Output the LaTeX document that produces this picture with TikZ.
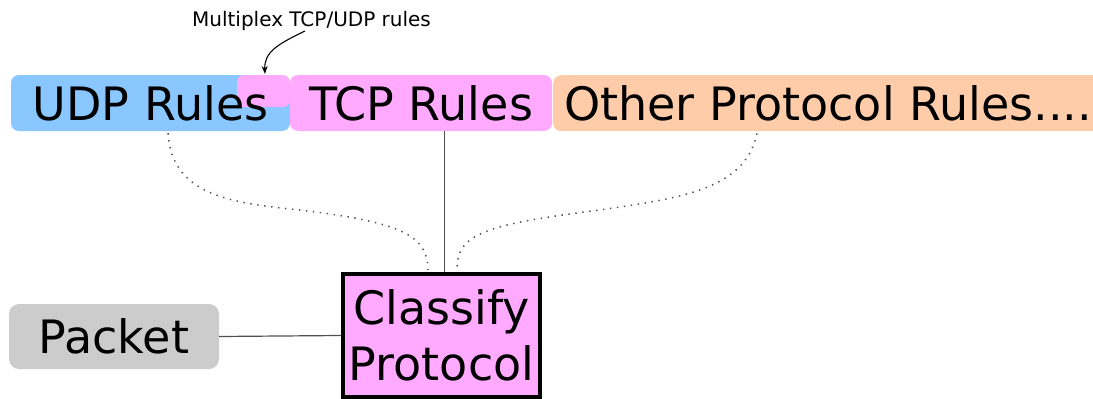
\documentclass[tikz,border=0pt]{standalone}
\usepackage{fontspec}
\setmainfont{DejaVu Sans}
\usetikzlibrary{arrows.meta,calc}

\definecolor{udpblue}{HTML}{8AC6FF}
\definecolor{tcppink}{HTML}{FFAAFF}
\definecolor{othorange}{HTML}{FFCCAA}
\definecolor{pktgray}{HTML}{CCCCCC}
\definecolor{linegray}{HTML}{505050}

\tikzset{
  bigtext/.style={font=\fontsize{46}{56}\selectfont},
  rulebox/.style={bigtext, rounded corners=8pt, inner sep=0pt, minimum height=56pt},
  classbox/.style={bigtext, draw=black, line width=4pt, fill=tcppink, inner sep=0pt,
    minimum width=197pt, minimum height=123pt, align=center},
  pktbox/.style={bigtext, fill=pktgray, rounded corners=10pt, inner sep=0pt,
    minimum width=210pt, minimum height=65pt},
  solidlink/.style={draw=linegray, line width=1.2pt},
  dottedlink/.style={draw=linegray, line width=1.5pt, dash pattern=on 1.4pt off 5.6pt},
  note/.style={font=\fontsize{20}{23}\selectfont, inner sep=0pt},
  notearrow/.style={draw=black, line width=1.1pt, -{Stealth[length=8pt,width=6pt]}}
}

\begin{document}
\begin{tikzpicture}[x=1pt,y=-1pt]
  \useasboundingbox (0,0) rectangle (1093,399);

  % rule sets by protocol; the shared TCP/UDP corner sits inside the UDP box
  \node[rulebox, fill=udpblue, minimum width=279pt,
        path picture={\fill[tcppink, rounded corners=7pt]
          ($(path picture bounding box.north east)+(-53pt,-32pt)$)
          rectangle (path picture bounding box.north east);}]
        (udp) at (150.5,103) {UDP Rules};
  \node[rulebox, fill=othorange, anchor=north west, inner xsep=11pt]
        (other) at (553,75) {Other Protocol Rules....};
  \node[rulebox, fill=tcppink, minimum width=262pt] (tcp) at (421,103) {TCP Rules};

  % annotation of the shared TCP/UDP part
  \coordinate (mux) at (265,74);
  \node[note] (ann) at (311.5,21) {Multiplex TCP/UDP rules};
  \draw[notearrow] (305,31) .. controls (278,44) and (264,52) .. (mux);

  % classifier and input
  \node[classbox] (classify) at (441.5,335.5) {Classify\\Protocol};
  \node[pktbox] (packet) at (114,336.5) {Packet};

  % connectors
  \draw[solidlink] (packet.east) -- (classify.west);
  \draw[solidlink] ([xshift=3pt]classify.north) -- ([xshift=3pt]classify.north |- tcp.south);
  \draw[dottedlink] ($(udp.south)+(17.5,2)$)
    .. controls (172,195) and (230,203) .. (300,210)
    .. controls (400,222) and (428,235) .. ($(classify.north)+(-13.5,-2)$);
  \draw[dottedlink] ($(other.south west)+(204,2)$)
    .. controls (745,190) and (680,198) .. (600,210)
    .. controls (480,225) and (457,235) .. ($(classify.north)+(15.5,-2)$);
\end{tikzpicture}
\end{document}
